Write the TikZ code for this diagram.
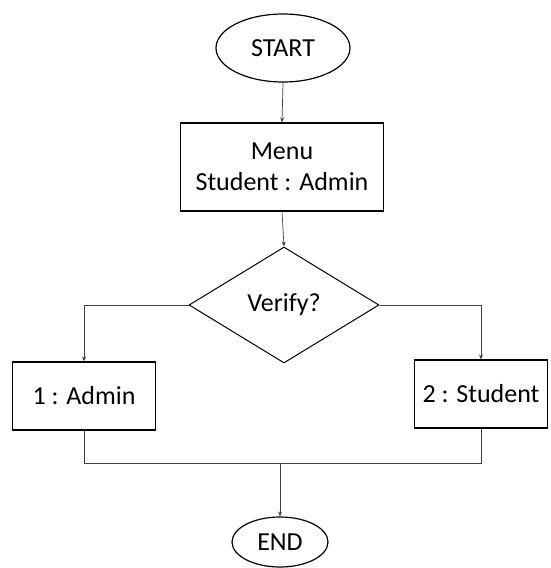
\documentclass[tikz,border=0pt]{standalone}
\usepackage{fontspec}
\setmainfont{Carlito}
\usetikzlibrary{shapes.geometric,arrows.meta}
\begin{document}
\begin{tikzpicture}[x=1pt,y=-1pt,
  every node/.style={font=\fontsize{26}{31}\selectfont, text=black},
  term/.style={ellipse, draw=black, line width=1.2pt, inner sep=0pt},
  proc/.style={rectangle, draw=black, line width=1.2pt, align=center, inner sep=0pt},
  dec/.style={diamond, draw=black, line width=1pt, inner sep=0pt},
  flow/.style={draw=black!75, line width=0.7pt},
  arr/.style={flow, -{Stealth[length=5pt,width=4pt]}}]
  \useasboundingbox (0,0) rectangle (550,568);

  % terminals, process boxes and the decision
  \node[term, minimum width=134, minimum height=68] (start) at (283,48) {START};
  \node[proc, minimum width=203, minimum height=88] (menu) at (282,167) {Menu\\Student : Admin};
  \node[dec, minimum width=190, minimum height=116] (verify) at (284,305) {Verify?};
  \node[proc, minimum width=143, minimum height=68] (admin) at (84,396) {1 : Admin};
  \node[proc, minimum width=133, minimum height=68] (student) at (481,394) {2 : Student};
  \node[term, minimum width=96, minimum height=50] (end) at (280,542) {END};

  % merge line below the two branches
  \coordinate (jl) at (84,463);
  \coordinate (jr) at (481,463);
  \coordinate (jm) at (280,463);

  % connectors
  \draw[arr] (start.south) -- (menu.north);
  \draw[arr] (menu.south) -- (verify.north);
  \draw[arr] (verify.west) -| (admin.north);
  \draw[arr] (verify.east) -| (student.north);
  \draw[flow] (admin.south) -- (jl) -- (jr) -- (student.south);
  \draw[arr] (jm) -- (end.north);
\end{tikzpicture}
\end{document}
